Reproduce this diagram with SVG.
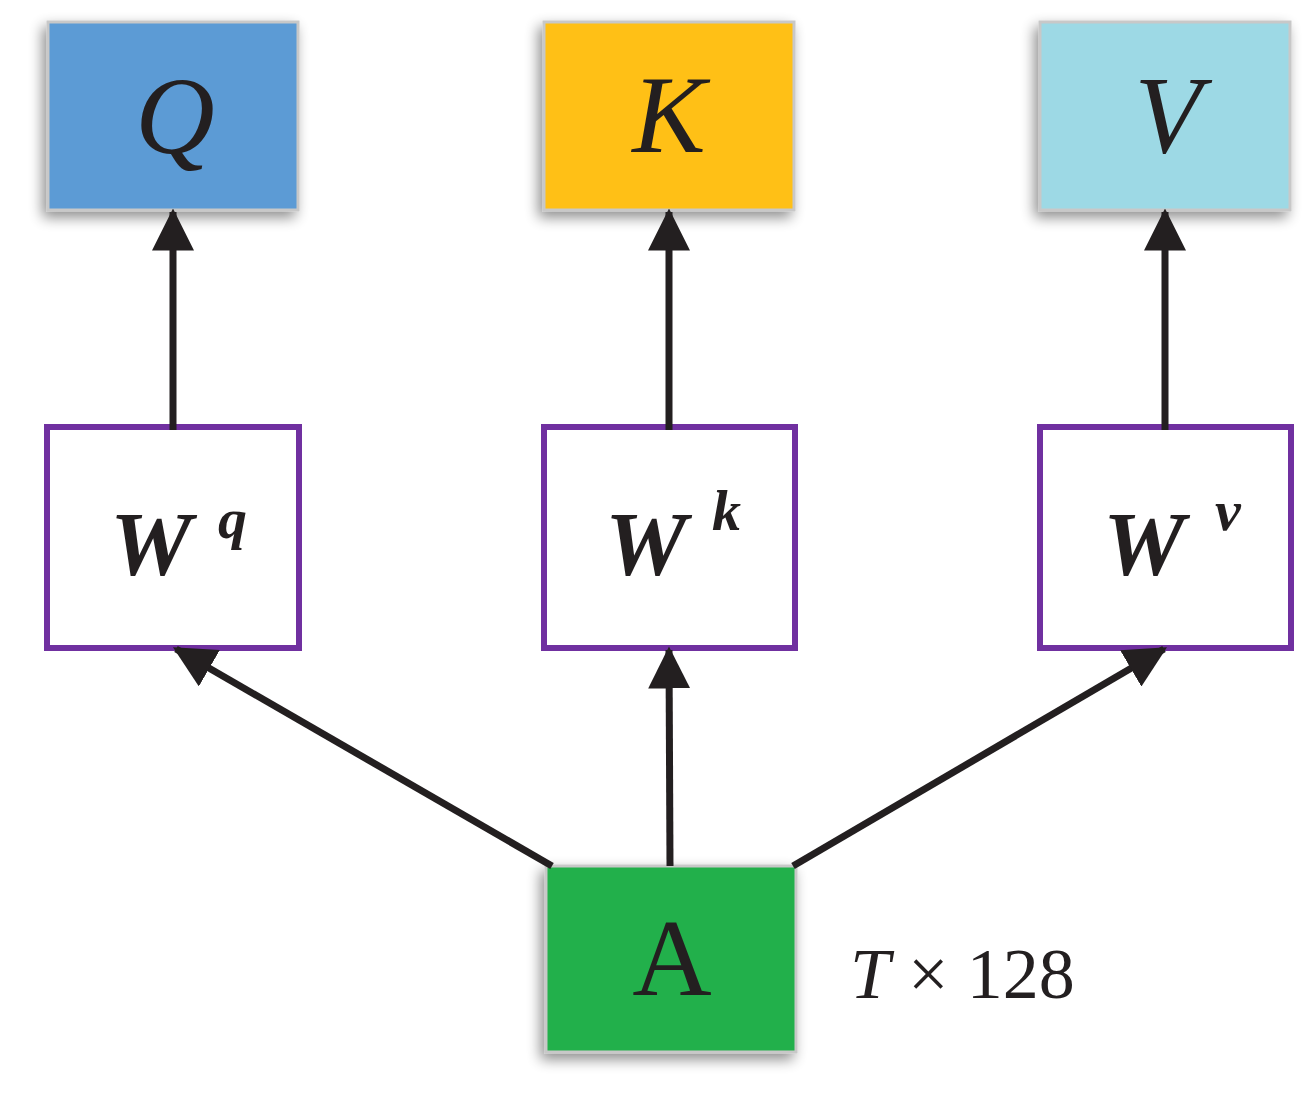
<svg xmlns="http://www.w3.org/2000/svg" width="1315" height="1108" viewBox="0 0 1315 1108">
<style>
.lbl{font-family:"Liberation Serif",serif;font-style:italic;fill:#231F20}
.w{font-family:"Liberation Serif",serif;font-style:italic;font-weight:bold;fill:#231F20}
.top{stroke:#C8C8C8;stroke-width:3}
.wb{fill:#fff;stroke:#7030A0;stroke-width:6}
.c{stroke:#231F20;stroke-width:7;fill:none}
</style>
<defs>
<filter id="sh" x="-20%" y="-20%" width="150%" height="150%"><feGaussianBlur in="SourceAlpha" stdDeviation="7"/><feOffset dx="-4" dy="6"/><feComponentTransfer><feFuncA type="linear" slope="0.45"/></feComponentTransfer><feMerge><feMergeNode/><feMergeNode in="SourceGraphic"/></feMerge></filter>
<marker id="ah" markerWidth="6" markerHeight="6" refX="5.5" refY="3" orient="auto" markerUnits="strokeWidth"><path d="M0,0 L6,3 L0,6 z" fill="#231F20"/></marker>
</defs>
<rect width="1315" height="1108" fill="#fff"/>
<g id="Q"><rect class="top" x="48" y="22" width="250" height="188" fill="#5B9BD5" filter="url(#sh)"/><text class="lbl" x="175" y="153" font-size="110" text-anchor="middle">Q</text></g>
<g id="K"><rect class="top" x="544" y="22" width="250" height="188" fill="#FFC014" filter="url(#sh)"/><text class="lbl" x="669" y="152" font-size="110" text-anchor="middle">K</text></g>
<g id="V"><rect class="top" x="1040" y="22" width="250" height="188" fill="#9DD9E5" filter="url(#sh)"/><text class="lbl" x="1168" y="152" font-size="110" text-anchor="middle">V</text></g>
<g id="Wq"><rect class="wb" x="47" y="427" width="252" height="221"/><text class="w" x="110" y="575" font-size="92">W</text><text class="w" x="218" y="538" font-size="58">q</text></g>
<g id="Wk"><rect class="wb" x="544" y="427" width="251" height="221"/><text class="w" x="605" y="575" font-size="92">W</text><text class="w" x="712" y="530" font-size="58">k</text></g>
<g id="Wv"><rect class="wb" x="1040" y="427" width="251" height="221"/><text class="w" x="1103" y="575" font-size="92">W</text><text class="w" x="1215" y="530" font-size="58">v</text></g>
<g id="A"><rect class="top" x="546" y="866" width="250" height="186" fill="#21B04B" filter="url(#sh)"/><text x="672" y="995" font-size="110" text-anchor="middle" font-family="Liberation Serif,serif" fill="#231F20">A</text></g>
<text x="850" y="998" font-size="72" font-family="Liberation Serif,serif" fill="#231F20"><tspan font-style="italic">T</tspan> × 128</text>
<g id="connectors">
<line class="c" x1="173" y1="430" x2="173" y2="212" marker-end="url(#ah)"/>
<line class="c" x1="669" y1="430" x2="669" y2="212" marker-end="url(#ah)"/>
<line class="c" x1="1165" y1="430" x2="1165" y2="212" marker-end="url(#ah)"/>
<line class="c" x1="552" y1="866" x2="176" y2="649" marker-end="url(#ah)"/>
<line class="c" x1="670" y1="866" x2="669" y2="650" marker-end="url(#ah)"/>
<line class="c" x1="793" y1="866" x2="1164" y2="649" marker-end="url(#ah)"/>
</g>
</svg>
